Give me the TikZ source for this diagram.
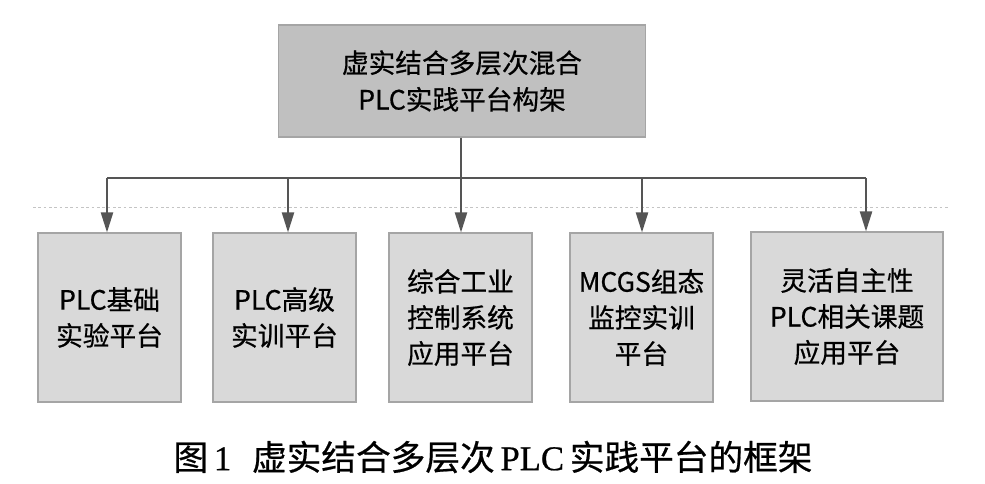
\documentclass[tikz,border=0pt]{standalone}
\usepackage{fontspec}
\setmainfont{Liberation Serif}
\newfontfamily\cjk{Noto Sans CJK SC}
\newfontfamily\cjkb[FakeBold=0.6]{Noto Sans CJK SC}
\newfontfamily\serifb[FakeBold=0.6]{Liberation Serif}
\usetikzlibrary{arrows.meta}
\definecolor{topfill}{HTML}{C0C0C0}
\definecolor{boxfill}{HTML}{D9D9D9}
\definecolor{boxline}{HTML}{A5A5A5}
\definecolor{arrcol}{HTML}{555555}
\definecolor{dotcol}{HTML}{C4C4C4}
\tikzset{
  topbox/.style={draw=boxline, line width=0.8pt, fill=topfill, align=center,
    font=\cjkb\fontsize{20}{27.5}\selectfont, inner sep=0pt,
    minimum width=275.25pt, minimum height=84pt},
  subbox/.style={draw=boxline, line width=0.8pt, fill=boxfill, align=center,
    font=\cjkb\fontsize{20}{27}\selectfont, inner sep=0pt,
    minimum width=107.25pt, minimum height=126.75pt},
  conn/.style={draw=arrcol, line width=1.6pt},
  arr/.style={conn, -{Triangle[length=15pt,width=9pt]}},
}
\begin{document}
\begin{tikzpicture}[x=0.75pt,y=-0.75pt]
\useasboundingbox (0,0) rectangle (985,483);
\fill[white] (0,0) rectangle (985,483);
% dotted guide line
\coordinate (g1) at (33,207);
\coordinate (g2) at (948,207);
\draw[dotcol, line width=0.6pt, dash pattern=on 2pt off 2pt] (g1) -- (g2);
% top box
\node[topbox] (top) at (462,81) {虚实结合多层次混合\\PLC实践平台构架};
% bottom boxes
\node[subbox] (b1) at (109.5,317.5) {PLC基础\\实验平台};
\node[subbox] (b2) at (284.5,317.5) {PLC高级\\实训平台};
\node[subbox] (b3) at (460.5,317.5) {综合工业\\控制系统\\应用平台};
\node[subbox] (b4) at (641.5,317.5) {MCGS组态\\监控实训\\平台};
\node[subbox, minimum width=144pt] (b5) at (847,316.5) {灵活自主性\\PLC相关课题\\应用平台};
% bus
\coordinate (bus) at (461,178);
\coordinate (d1) at (107,178);
\coordinate (d2) at (288,178);
\coordinate (d3) at (461,178);
\coordinate (d4) at (642,178);
\coordinate (d5) at (866,178);
\draw[conn] (top.south -| bus) -- (bus);
\draw[conn] (d1) -- (d5);
\draw[arr] (d1) -- (d1 |- b1.north);
\draw[arr] (d2) -- (d2 |- b2.north);
\draw[arr] (d3) -- (d3 |- b3.north);
\draw[arr] (d4) -- (d4 |- b4.north);
\draw[arr] (d5) -- (d5 |- b5.north);
% caption
\node[font=\serifb\fontsize{26}{30}\selectfont, inner sep=0pt] (cap) at (493,457)
  {{\cjkb 图}\,1\hspace{0.6em}{\cjkb 虚实结合多层次}\,PLC\,{\cjkb 实践平台的框架}};
\end{tikzpicture}
\end{document}
